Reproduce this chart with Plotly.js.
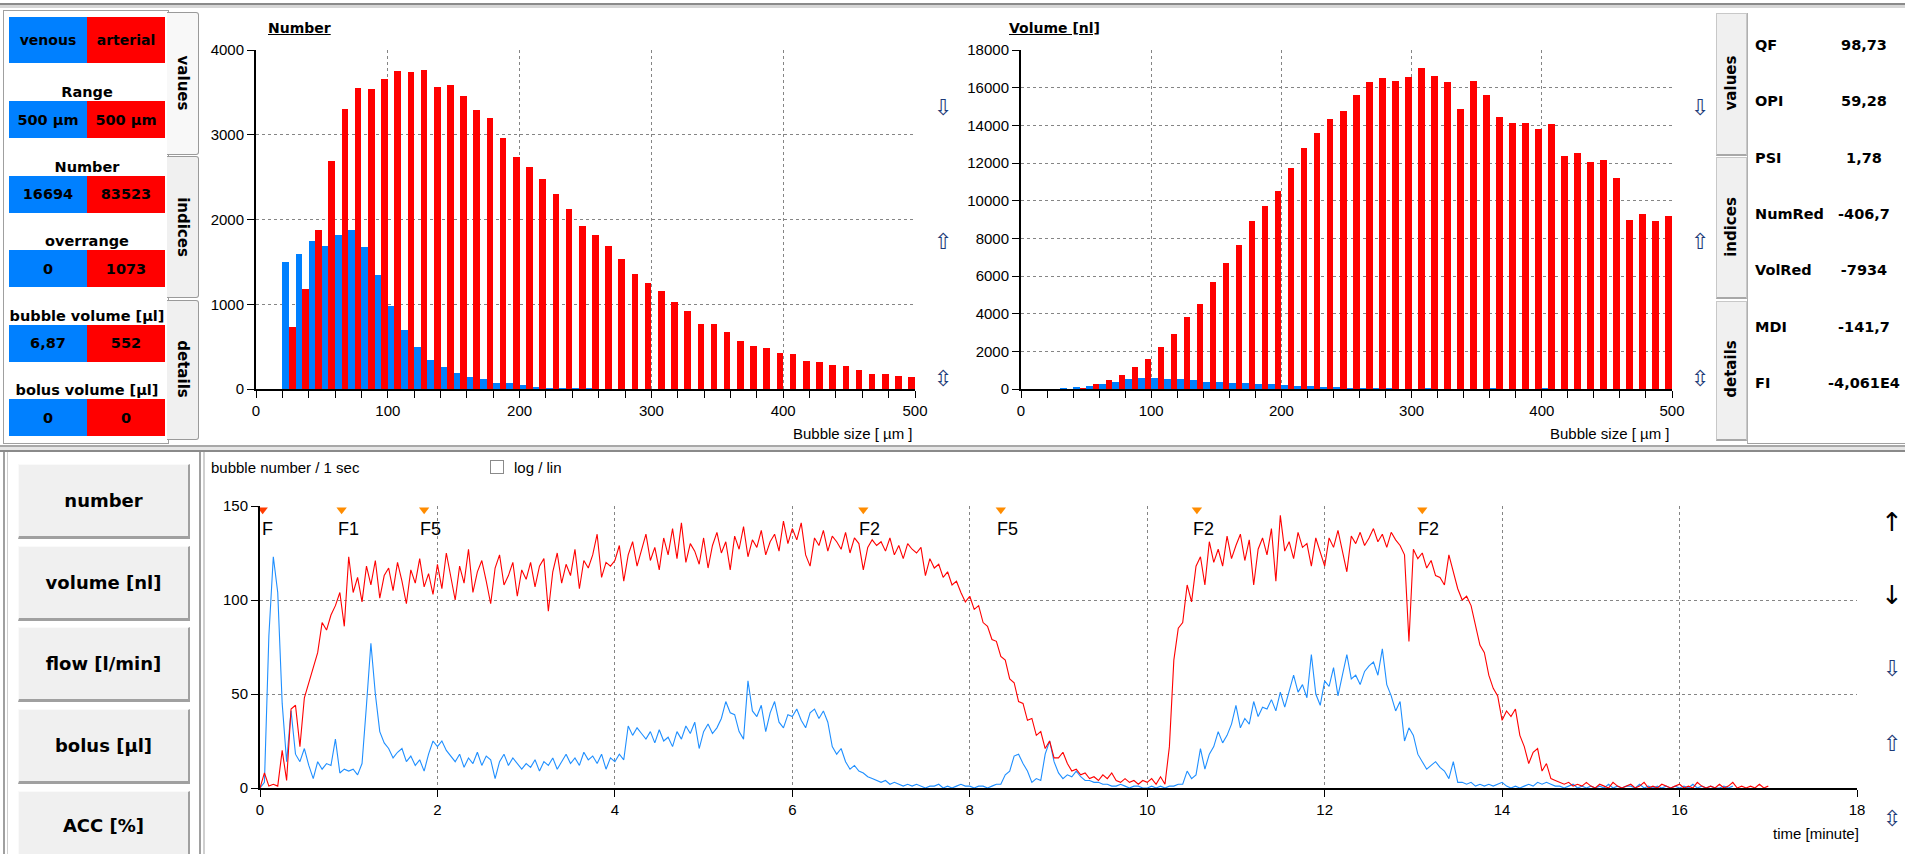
<!DOCTYPE html>
<html>
<head>
<meta charset="utf-8">
<title>Bubble counter</title>
<script src="https://cdn.plot.ly/plotly-3.0.1.min.js"></script>
<style>
  html, body { margin:0; padding:0; background:#ffffff; }
  body { width:1905px; height:854px; position:relative; overflow:hidden; }
  #chrome, #plot { position:absolute; left:0; top:0; width:1905px; height:854px; }
  #chrome div { position:absolute; box-sizing:border-box; }
  .bold { font-family:"DejaVu Sans", Verdana, sans-serif; font-weight:bold; color:#000; white-space:nowrap; }
  .plain { font-family:"Liberation Sans", Arial, sans-serif; color:#000; white-space:nowrap; }
  .cell { display:flex; align-items:center; justify-content:center; }
</style>
</head>
<body>
<div id="chrome"></div>
<div id="plot"></div>
<script>
// ---------------- data ----------------
// size classes (lower edge, µm)
const binStart = [20,30,40,50,60,70,80,90,100,110,120,130,140,150,160,170,180,190,200,210,
                  220,230,240,250,260,270,280,290,300,310,320,330,340,350,360,370,380,390,400,410,
                  420,430,440,450,460,470,480,490];
const binWidth = 10;

// bubble count per size class
const numVenous = [1499,1589,1742,1683,1813,1872,1672,1345,979,696,496,342,260,185,146,118,71,71,47,20,
                   16,16,16,6,5,3,2,2,1,1,1,0,1,0,1,0,0,0,1,0,
                   0,0,0,0,0,0,0,0];
const numArterial = [735,1176,1872,2690,3300,3556,3540,3654,3752,3740,3768,3567,3583,3453,3288,3202,2962,2734,2619,2478,
                     2297,2124,1927,1813,1683,1530,1361,1247,1160,1023,920,767,767,669,566,511,480,429,409,330,
                     315,283,271,228,173,173,157,138];

// bubble volume per size class [nl]
const volVenous = [0,60,88,160,265,390,513,584,584,513,513,460,390,390,300,300,265,265,195,142,
                   142,88,88,70,70,40,30,20,25,40,15,0,15,0,45,0,0,0,45,0,
                   0,0,0,0,0,0,0,0];
const volArterial = [0,20,71,248,460,761,1150,1593,2230,2938,3823,4531,5664,6690,7646,8920,9735,10513,11717,12814,
                     13575,14336,14779,15593,16319,16496,16372,16549,17062,16619,16301,14850,16372,15593,14460,14142,14142,13823,14071,12372,
                     12549,12035,12159,11204,8973,9292,8920,9186];

// bubble number per second, one sample every tStep minutes
const tStep = 0.05;
const rateArterial = [
  0,8,1,2,1,20,4,42,44,22,48,56,65,72,88,84,92,97,104,86,
  123,104,112,99,118,108,121,101,113,117,105,120,110,98,116,109,122,107,114,103,
  119,106,125,112,100,118,109,127,104,115,121,110,98,117,124,108,113,120,102,116,
  111,120,107,118,122,94,115,125,109,119,113,127,106,121,117,124,135,112,120,118,
  121,129,110,124,131,118,127,135,121,128,116,133,124,138,122,141,120,130,126,119,
  133,117,129,136,125,131,116,134,127,139,123,132,128,137,124,131,135,126,142,130,
  138,132,141,124,118,133,129,137,126,134,131,127,136,125,133,130,116,128,132,129,
  131,126,133,124,129,122,130,127,125,128,
  113,122,117,119,112,115,108,110,104,99,
  102,95,97,88,86,79,78,70,68,58,56,46,45,36,37,28,30,21,25,16,
  16,19,13,9,10,7,8,5,6,4,7,5,8,4,3,5,3,4,2,4,
  3,5,2,6,2,22,68,85,88,108,99,118,123,108,131,120,127,118,134,122,
  129,135,121,132,108,127,133,124,138,110,145,126,131,122,136,128,130,118,133,125,
  118,133,128,137,126,115,134,130,136,129,133,138,131,135,128,136,132,129,124,78,
  127,122,125,117,121,113,112,108,124,115,
  106,100,102,97,87,76,72,60,53,49,
  36,41,38,42,28,22,13,19,21,9,13,5,4,3,2,3,1,2,1,3,
  1,0,2,1,0,3,1,0,1,2,0,1,3,0,1,0,2,1,0,1,
  2,0,1,0,3,1,0,1,0,2,0,1,3,0,1,0,1,0,2,0,1
];
const rateVenous = [
  0,3,81,123,104,45,14,41,18,14,21,12,5,14,10,13,12,26,8,10,
  9,10,7,13,44,77,50,30,24,21,16,19,21,14,17,12,15,9,18,25,
  22,25,20,17,14,18,11,16,13,19,12,17,15,5,14,18,12,16,13,10,
  13,11,15,9,14,12,16,10,14,18,13,16,12,19,15,17,13,18,10,16,
  14,18,15,33,28,32,29,26,30,24,31,25,27,22,30,26,33,29,35,21,
  30,34,29,32,37,46,40,39,30,26,57,41,38,44,30,40,46,35,32,39,
  38,42,36,32,40,42,37,41,35,22,18,21,14,10,12,9,8,6,5,4,
  3,4,2,3,2,1,2,1,2,1,0,1,1,2,0,1,0,1,2,1,
  1,0,1,1,0,1,2,2,7,9,17,18,13,9,3,5,4,18,25,14,
  8,5,7,6,9,6,4,4,3,3,2,2,1,1,2,1,0,1,1,0,
  0,1,0,1,0,1,1,2,2,9,5,7,21,10,18,22,30,24,28,34,
  44,32,37,34,46,38,43,42,47,41,51,43,52,60,51,55,48,71,50,44,
  57,54,64,49,60,71,58,60,55,62,65,67,60,74,55,49,41,46,25,32,
  28,18,14,10,12,14,11,9,5,14,3,3,2,3,1,2,1,2,1,2,
  3,1,0,1,0,1,2,1,3,2,3,2,1,1,0,1,2,0,1,0,
  1,0,1,0,2,0,1,0,1,1,0,2,0,1,0,1,0,1,0,1,
  0,1,0,2,0,1,0,1,0,0,1,0,1
];

// event marks on the time axis [minute]
const eventTimes  = [0.03, 0.92, 1.85, 6.80, 8.35, 10.56, 13.10];
const eventLabels = ['F', 'F1', 'F5', 'F2', 'F5', 'F2', 'F2'];

// summary panel
const channelNames   = ['venous', 'arterial'];
const panelLabels    = ['Range', 'Number', 'overrange', 'bubble volume [µl]', 'bolus volume [µl]'];
const venousValues   = ['500 µm', '16694', '0', '6,87', '0'];
const arterialValues = ['500 µm', '83523', '1073', '552', '0'];

const indexNames  = ['QF', 'OPI', 'PSI', 'NumRed', 'VolRed', 'MDI', 'FI'];
const indexValues = ['98,73', '59,28', '1,78', '-406,7', '-7934', '-141,7', '-4,061E4'];

const tabNames    = ['values', 'indices', 'details'];
const buttonNames = ['number', 'volume [nl]', 'flow [l/min]', 'bolus [µl]', 'ACC [%]'];

// ---------------- window chrome ----------------
const VEN = '#0080ff', ART = '#ff0000';
const chrome = document.getElementById('chrome');

function box(x, y, w, h, css, text, cls) {
  const d = document.createElement('div');
  if (cls) d.className = cls;
  if (text !== undefined) d.textContent = text;
  d.style.cssText = 'left:' + x + 'px;top:' + y + 'px;width:' + w + 'px;height:' + h + 'px;' + (css || '');
  chrome.appendChild(d);
  return d;
}
function label(text, x, y, css, anchor, rot, cls) {
  const d = document.createElement('div');
  d.className = cls || 'bold';
  d.textContent = text;
  const tx = anchor === 'left' ? '0' : (anchor === 'right' ? '-100%' : '-50%');
  d.style.cssText = 'left:' + x + 'px;top:' + y + 'px;transform:translate(' + tx + ',-50%)' +
                    (rot ? ' rotate(' + rot + 'deg)' : '') + ';' + (css || '');
  chrome.appendChild(d);
  return d;
}

// frame lines
box(0, 3, 1905, 2, 'background:#8a8a8a;');
box(0, 5, 1905, 3, 'background:#d6d6d6;');
box(0, 445, 1905, 2, 'background:#a8a8a8;');
box(0, 447, 1905, 3, 'background:#e6e6e6;');
box(0, 450, 1905, 2, 'background:#8a8a8a;');

// left summary panel
box(3, 10, 166, 434, 'background:#fff;border:1px solid #a0a0a0;');
box(9, 17, 78, 46, 'background:' + VEN + ';font-size:14px;', channelNames[0], 'bold cell');
box(87, 17, 78, 46, 'background:' + ART + ';font-size:14px;', channelNames[1], 'bold cell');
panelLabels.forEach((name, i) => {
  const top = 101 + i * 74.5;
  label(name, 87, top - 9, 'font-size:14.5px;');
  box(9, top, 78, 37, 'background:' + VEN + ';font-size:14.5px;', venousValues[i], 'bold cell');
  box(87, top, 78, 37, 'background:' + ART + ';font-size:14.5px;', arterialValues[i], 'bold cell');
});

// tab strips
const tabTops = [12, 156, 300], tabHeights = [143, 142, 140], tabCentres = [83, 227, 369];
tabNames.forEach((name, i) => {
  box(167, tabTops[i], 32, tabHeights[i],
      'background:' + (i === 0 ? '#f8f8f8' : '#f0f0f0') + ';border:1px solid #9a9a9a;border-left:none;border-radius:0 3px 3px 0;');
  label(name, 183, tabCentres[i], 'font-size:15px;', 'center', 90);
  box(1716, tabTops[i] + 1, 31, tabHeights[i], 'background:#f0f0f0;border:1px solid #c8c8c8;border-bottom:2px solid #a8a8a8;');
  label(name, 1731, tabCentres[i], 'font-size:15px;', 'center', -90);
});

// right index panel
box(1747, 13, 158, 431, 'background:#fff;border-left:1px solid #b0b0b0;border-bottom:1px solid #a0a0a0;');
indexNames.forEach((name, i) => {
  const cy = 45 + i * 56.3;
  label(name, 1755, cy, 'font-size:14.5px;', 'left');
  label(indexValues[i], 1864, cy, 'font-size:14.5px;', 'center');
});

// chart titles
label('Number', 268, 28, 'font-size:14px;text-decoration:underline;', 'left');
label('Volume [nl]', 1009, 28, 'font-size:14px;text-decoration:underline;', 'left');

// scroll arrows beside the histograms
const arrowCss = 'font-weight:normal;font-size:22px;color:#1d3a78;';
[943, 1700].forEach(x => {
  label('⇩', x, 107, arrowCss);
  label('⇧', x, 241, arrowCss);
  label('⇳', x, 378, arrowCss);
});

// lower-left selector buttons
box(3, 452, 2, 402, 'background:#a0a0a0;');
box(7, 452, 1, 402, 'background:#cfcfcf;');
box(199, 452, 2, 402, 'background:#a0a0a0;');
box(203, 452, 2, 402, 'background:#cfcfcf;');
const buttonTops = [464, 546, 627, 709, 791];
buttonNames.forEach((name, i) => {
  box(18, buttonTops[i], 172, i === 4 ? 70 : 75,
      'background:#f0f0f0;border-top:1px solid #fafafa;border-left:1px solid #fafafa;border-right:2px solid #a0a0a0;border-bottom:3px solid #a0a0a0;font-size:18px;',
      name, 'bold cell');
});

// log / lin switch
box(490, 460, 14, 14, 'background:#fff;border:1px solid #8a8a8a;');
label('log / lin', 514, 467, 'font-size:15px;', 'left', 0, 'plain');

// zoom arrows beside the time chart
label('↑', 1892, 522, 'font-size:26px;font-weight:normal;');
label('↓', 1892, 595, 'font-size:26px;font-weight:normal;');
label('⇩', 1892, 668, arrowCss);
label('⇧', 1892, 743, arrowCss);
label('⇳', 1892, 818, arrowCss);

// ---------------- charts ----------------
const W = 1905, H = 854;
const px = v => v / W;        // pixel column -> paper x
const py = v => 1 - v / H;    // pixel row (from top) -> paper y

const binCentre = binStart.map(b => b + binWidth / 2);
const tArt = rateArterial.map((_, i) => +(i * tStep).toFixed(3));
const tVen = rateVenous.map((_, i) => +(i * tStep).toFixed(3));

const tickFont = { family: 'Liberation Sans, Arial, sans-serif', size: 15, color: '#000' };
const axisBase = {
  showgrid: true, gridcolor: '#858585', gridwidth: 1, griddash: '3px,3px',
  zeroline: false, showline: true, linecolor: '#000', linewidth: 2,
  ticks: 'outside', ticklen: 7, tickwidth: 1, tickcolor: '#000',
  tickfont: tickFont, fixedrange: true, tickmode: 'linear', tick0: 0,
  tickformat: 'd', separatethousands: false
};
const sizeMinor = { dtick: 20, ticks: 'outside', ticklen: 7, tickwidth: 1, tickcolor: '#000', showgrid: false };

const traces = [
  { type: 'bar', x: binCentre, y: numVenous, xaxis: 'x', yaxis: 'y',
    marker: { color: VEN, line: { width: 0 } }, hoverinfo: 'skip' },
  { type: 'bar', x: binCentre, y: numArterial, xaxis: 'x', yaxis: 'y',
    marker: { color: ART, line: { width: 0 } }, hoverinfo: 'skip' },
  { type: 'bar', x: binCentre, y: volVenous, xaxis: 'x2', yaxis: 'y2',
    marker: { color: VEN, line: { width: 0 } }, hoverinfo: 'skip' },
  { type: 'bar', x: binCentre, y: volArterial, xaxis: 'x2', yaxis: 'y2',
    marker: { color: ART, line: { width: 0 } }, hoverinfo: 'skip' },
  { type: 'scatter', mode: 'lines', x: tVen, y: rateVenous, xaxis: 'x3', yaxis: 'y3',
    line: { color: '#1f8fff', width: 1.1 }, hoverinfo: 'skip' },
  { type: 'scatter', mode: 'lines', x: tArt, y: rateArterial, xaxis: 'x3', yaxis: 'y3',
    line: { color: '#ff0000', width: 1.1 }, hoverinfo: 'skip' },
  { type: 'scatter', mode: 'markers', x: eventTimes, y: eventTimes.map(() => 148),
    xaxis: 'x3', yaxis: 'y3', cliponaxis: false, hoverinfo: 'skip',
    marker: { symbol: 'triangle-down', size: 9, color: eventLabels.map((l, i) => i === 0 ? '#ff3c00' : '#ff8c00') } }
];

const annotations = [
  { text: 'Bubble size [ µm ]', xref: 'paper', yref: 'paper', x: px(915), y: py(433), xanchor: 'right', yanchor: 'middle', showarrow: false, font: tickFont },
  { text: 'Bubble size [ µm ]', xref: 'paper', yref: 'paper', x: px(1672), y: py(433), xanchor: 'right', yanchor: 'middle', showarrow: false, font: tickFont },
  { text: 'time [minute]', xref: 'paper', yref: 'paper', x: px(1861), y: py(833), xanchor: 'right', yanchor: 'middle', showarrow: false, font: tickFont },
  { text: 'bubble number / 1 sec', xref: 'paper', yref: 'paper', x: px(209), y: py(467), xanchor: 'left', yanchor: 'middle', showarrow: false, font: tickFont }
].concat(eventLabels.map((txt, i) => ({
  text: txt, xref: 'x3', yref: 'y3', x: eventTimes[i], y: 138, xanchor: 'left', yanchor: 'middle',
  xshift: i === 0 ? -3 : -6, showarrow: false,
  font: { family: 'Liberation Sans, Arial, sans-serif', size: 18, color: '#000' }
})));

const layout = {
  width: W, height: H, margin: { l: 0, r: 0, t: 0, b: 0 },
  paper_bgcolor: 'rgba(0,0,0,0)', plot_bgcolor: 'rgba(0,0,0,0)',
  showlegend: false, barmode: 'group', bargap: 0, bargroupgap: 0,
  font: tickFont,
  xaxis:  Object.assign({}, axisBase, { domain: [px(256), px(915)], anchor: 'y', range: [0, 500], dtick: 100, minor: sizeMinor }),
  yaxis:  Object.assign({}, axisBase, { domain: [py(389), py(50)], anchor: 'x', range: [0, 4000], dtick: 1000 }),
  xaxis2: Object.assign({}, axisBase, { domain: [px(1021), px(1672)], anchor: 'y2', range: [0, 500], dtick: 100, minor: sizeMinor }),
  yaxis2: Object.assign({}, axisBase, { domain: [py(389), py(50)], anchor: 'x2', range: [0, 18000], dtick: 2000 }),
  xaxis3: Object.assign({}, axisBase, { domain: [px(260), px(1857)], anchor: 'y3', range: [0, 18], dtick: 2 }),
  yaxis3: Object.assign({}, axisBase, { domain: [py(788), py(506)], anchor: 'x3', range: [0, 150], dtick: 50 }),
  annotations: annotations
};

Plotly.newPlot('plot', traces, layout, { staticPlot: true, displayModeBar: false });
</script>
</body>
</html>
